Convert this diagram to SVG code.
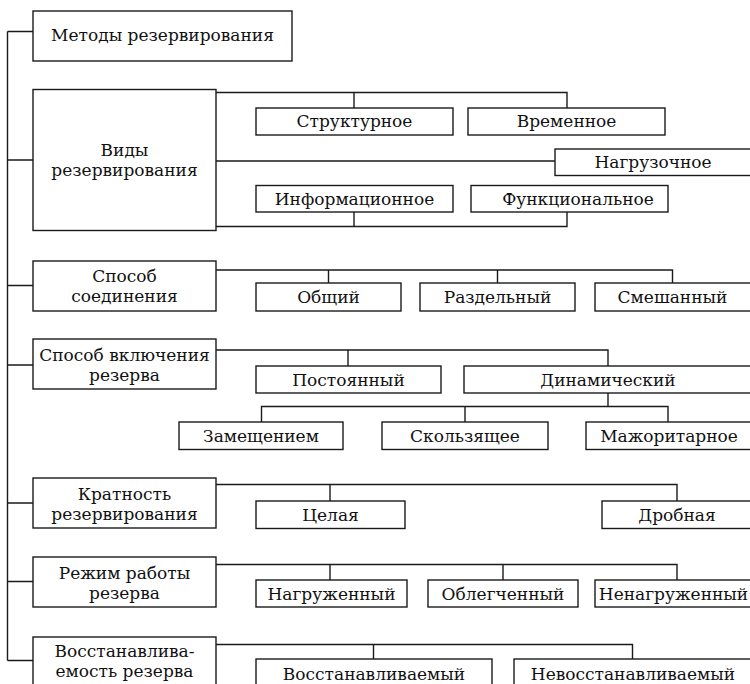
<svg xmlns="http://www.w3.org/2000/svg" width="750" height="684" viewBox="0 0 750 684">
<style>
rect{fill:#fff;stroke:#1a1a1a;stroke-width:1.4}
text{font-family:"DejaVu Serif","Liberation Serif",serif;font-size:17px;fill:#111;text-anchor:middle}
#connectors path{fill:none;stroke:#1a1a1a;stroke-width:1.4}
</style>
<rect x="0" y="0" width="750" height="684" style="stroke:none;fill:#fff"/>
<g id="connectors">
<path d="M7.5,31.5 V660.5 M7.5,31.5 H33 M7.5,160 H33 M7.5,285.5 H33 M7.5,365 H33 M7.5,503 H33 M7.5,581.5 H33 M7.5,660.5 H33"/>
<path d="M216,92.5 H567 V108 M354,92.5 V108 M216,161 H555 M216,226.5 H567 V212 M354,226.5 V212"/>
<path d="M216,270 H672.5 V283 M328.5,270 V283 M497.5,270 V283"/>
<path d="M216,350 H608 V366 M348,350 V366 M608,393 V406.5 M261.5,422 V406.5 H668 V422 M465,406.5 V422"/>
<path d="M216,484.5 H677 V501 M330,484.5 V501"/>
<path d="M216,564.5 H677 V580 M330,564.5 V580 M503,564.5 V580"/>
<path d="M216,644.5 H632.5 V659 M373.5,644.5 V659"/>
</g>
<g id="n-methods"><rect x="33" y="11" width="259" height="50"/><text x="162.5" y="41">Методы резервирования</text></g>
<g id="n-types"><rect x="33" y="89.5" width="183" height="141"/><text x="124.5" y="156">Виды</text><text x="124.5" y="176">резервирования</text></g>
<g id="n-struct"><rect x="256" y="108" width="197" height="27"/><text x="354.5" y="127">Структурное</text></g>
<g id="n-time"><rect x="468" y="108" width="197" height="27"/><text x="566.5" y="127">Временное</text></g>
<g id="n-load"><rect x="555" y="149" width="197" height="26.5"/><text x="653" y="168">Нагрузочное</text></g>
<g id="n-info"><rect x="256" y="185.5" width="197" height="26.5"/><text x="354.5" y="205">Информационное</text></g>
<g id="n-func"><rect x="471" y="185.5" width="197" height="26.5"/><text x="578" y="205">Функциональное</text></g>
<g id="n-conn"><rect x="33" y="261" width="183" height="50"/><text x="124.5" y="282">Способ</text><text x="124.5" y="302">соединения</text></g>
<g id="n-common"><rect x="256" y="283" width="145" height="28"/><text x="328.5" y="303">Общий</text></g>
<g id="n-separate"><rect x="420" y="283" width="155" height="28"/><text x="497.5" y="303">Раздельный</text></g>
<g id="n-mixed"><rect x="595" y="283" width="157" height="28"/><text x="672.5" y="303">Смешанный</text></g>
<g id="n-switch"><rect x="33" y="339" width="183" height="50"/><text x="124.5" y="361">Способ включения</text><text x="124.5" y="381">резерва</text></g>
<g id="n-const"><rect x="256" y="366" width="185" height="27"/><text x="348.5" y="386">Постоянный</text></g>
<g id="n-dyn"><rect x="464" y="366" width="288" height="27"/><text x="608" y="386">Динамический</text></g>
<g id="n-replace"><rect x="179" y="422" width="164" height="27.5"/><text x="261" y="442">Замещением</text></g>
<g id="n-slide"><rect x="382" y="422" width="166" height="27.5"/><text x="465" y="442">Скользящее</text></g>
<g id="n-major"><rect x="586" y="422" width="166" height="27.5"/><text x="669" y="442">Мажоритарное</text></g>
<g id="n-mult"><rect x="33" y="478" width="183" height="50"/><text x="124.5" y="500">Кратность</text><text x="124.5" y="520">резервирования</text></g>
<g id="n-whole"><rect x="256" y="501" width="149" height="27.5"/><text x="330.5" y="521">Целая</text></g>
<g id="n-frac"><rect x="602" y="501" width="150" height="27.5"/><text x="677" y="521">Дробная</text></g>
<g id="n-mode"><rect x="33" y="557" width="183" height="50"/><text x="124.5" y="579">Режим работы</text><text x="124.5" y="599">резерва</text></g>
<g id="n-loaded"><rect x="256" y="580" width="151" height="27"/><text x="331.5" y="600">Нагруженный</text></g>
<g id="n-light"><rect x="428" y="580" width="150" height="27"/><text x="503" y="600">Облегченный</text></g>
<g id="n-unloaded"><rect x="595" y="580" width="157" height="27"/><text x="673.5" y="600">Ненагруженный</text></g>
<g id="n-recov"><rect x="33" y="637" width="183" height="60"/><text x="124.5" y="657">Восстанавлива-</text><text x="124.5" y="677">емость резерва</text></g>
<g id="n-recovable"><rect x="256" y="659" width="236" height="40"/><text x="374" y="680">Восстанавливаемый</text></g>
<g id="n-nonrecov"><rect x="514" y="659" width="238" height="40"/><text x="633" y="680">Невосстанавливаемый</text></g>
</svg>
